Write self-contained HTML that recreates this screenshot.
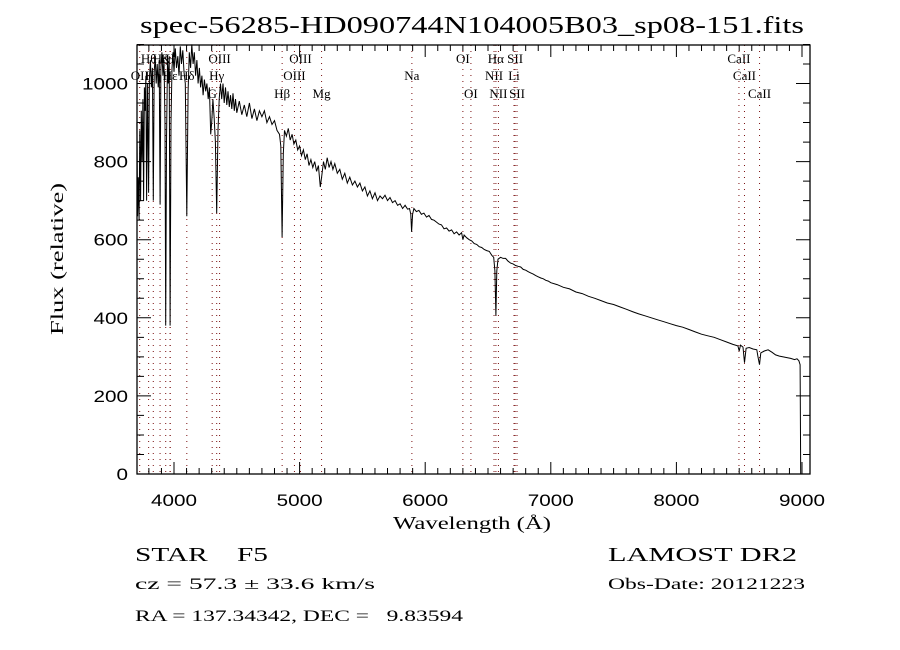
<!DOCTYPE html>
<html><head><meta charset="utf-8"><style>
html,body{margin:0;padding:0;background:#fff;}
svg{display:block;font-family:"Liberation Serif",serif;}
svg text{white-space:pre;}
</style></head><body>
<svg id="chart" width="900" height="650" viewBox="0 0 900 650" xmlns="http://www.w3.org/2000/svg" xml:space="preserve">
<rect width="900" height="650" fill="#fff"/>
<text x="472" y="33" font-size="24" textLength="664" lengthAdjust="spacingAndGlyphs" text-anchor="middle">spec-56285-HD090744N104005B03_sp08-151.fits</text>
<g id="lines"></g>
<g id="axes"></g>
<g id="series"></g>
<text x="472" y="529" font-size="18" textLength="158" lengthAdjust="spacingAndGlyphs" text-anchor="middle">Wavelength (Å)</text>
<text transform="translate(63,259) rotate(-90)" font-size="18" textLength="152" lengthAdjust="spacingAndGlyphs" text-anchor="middle">Flux (relative)</text>
<text x="135" y="561" font-size="20" textLength="133" lengthAdjust="spacingAndGlyphs">STAR    F5</text>
<text x="608" y="561" font-size="20" textLength="189" lengthAdjust="spacingAndGlyphs">LAMOST DR2</text>
<text x="135" y="589" font-size="16" textLength="240" lengthAdjust="spacingAndGlyphs">cz = 57.3 ± 33.6 km/s</text>
<text x="608" y="589" font-size="16" textLength="197" lengthAdjust="spacingAndGlyphs">Obs-Date: 20121223</text>
<text x="135" y="621" font-size="16" textLength="328" lengthAdjust="spacingAndGlyphs">RA = 137.34342, DEC =   9.83594</text>
</svg>
<script>
const wavelengths = [3705,3710,3716,3722,3728,3734,3740,3746,3752,3758,3764,3770,3776,3782,3790,3798,3804,3812,3820,3828,3835,3842,3850,3858,3866,3874,3882,3889,3896,3904,3912,3920,3928,3934,3940,3948,3955,3962,3969,3976,3984,3992,4000,4010,4020,4030,4040,4050,4060,4070,4080,4090,4102,4112,4122,4132,4142,4152,4162,4172,4182,4192,4202,4212,4222,4232,4242,4252,4262,4272,4282,4292,4300,4310,4320,4330,4340,4350,4360,4370,4380,4390,4400,4410,4420,4430,4440,4450,4460,4470,4480,4490,4500,4520,4540,4560,4580,4600,4620,4640,4660,4680,4700,4720,4740,4760,4780,4800,4820,4840,4850,4861,4870,4880,4895,4910,4925,4940,4955,4970,4985,5000,5015,5030,5045,5060,5075,5090,5105,5120,5135,5150,5165,5175,5190,5205,5220,5235,5250,5265,5280,5300,5320,5340,5360,5380,5400,5420,5440,5460,5480,5500,5520,5540,5560,5580,5600,5620,5640,5660,5680,5700,5720,5740,5760,5780,5800,5820,5840,5860,5875,5885,5892,5900,5910,5930,5950,5970,5990,6010,6030,6050,6070,6090,6110,6130,6150,6170,6190,6210,6230,6250,6270,6290,6300,6310,6330,6350,6370,6390,6410,6430,6450,6470,6490,6510,6530,6545,6555,6563,6570,6580,6600,6620,6640,6660,6680,6700,6720,6740,6760,6780,6800,6820,6840,6860,6880,6900,6920,6940,6960,6980,7000,7050,7100,7150,7200,7250,7300,7350,7400,7450,7500,7550,7600,7650,7700,7750,7800,7850,7900,7950,8000,8050,8100,8150,8200,8250,8300,8350,8400,8450,8490,8500,8510,8530,8542,8555,8580,8610,8640,8650,8662,8672,8700,8730,8760,8790,8820,8850,8880,8910,8940,8960,8975,8985,8990];
const fluxes = [900,660,760,650,880,700,930,800,960,700,990,930,1020,700,1000,720,1010,1060,990,1040,700,1030,1070,1000,1050,990,1060,690,1040,1080,1020,1060,900,380,850,1060,1000,1070,380,900,1040,1080,1030,1090,1040,1070,1020,1095,1050,1085,1030,1000,660,980,1080,1040,1100,1050,1080,1020,1060,1000,1040,990,1020,970,1010,980,1000,960,990,870,900,960,910,850,668,880,960,1000,960,1000,950,990,945,980,940,970,935,975,930,960,925,955,920,945,915,950,910,935,905,930,915,930,900,915,895,905,880,870,840,607,820,880,865,885,855,870,845,855,830,840,815,830,805,820,790,805,785,800,775,790,735,760,800,780,810,785,800,780,795,770,780,755,770,745,760,740,750,735,745,725,735,712,725,705,720,700,712,705,714,700,708,695,700,688,692,680,688,678,680,665,620,665,680,672,675,665,668,658,662,652,650,645,640,638,628,630,622,625,615,620,612,618,600,612,605,600,597,590,588,582,580,575,572,570,560,555,520,405,520,550,555,552,552,545,540,538,534,532,530,524,522,518,515,512,508,505,502,500,496,494,490,485,478,474,466,462,455,450,444,438,434,428,422,416,410,405,400,395,390,385,380,376,370,364,358,354,350,344,338,332,328,315,330,325,285,322,324,320,318,300,280,310,315,318,312,305,302,300,298,296,293,295,290,280,0];
const lineNames = ["OII","Hθ","Hη","Hζ","K","H","Hε","Hδ","G","Hγ","OIII","Hβ","OIII","OIII","Mg","Na","OI","OI","NII","Hα","NII","Li","SII","SII","CaII","CaII","CaII"];
const lineWaves = [3727,3798,3835,3889,3934,3969,3970,4102,4304,4340,4363,4861,4959,5007,5175,5894,6300,6364,6548,6563,6583,6707,6716,6731,8498,8542,8662];
const lineRows = [2,1,2,1,1,1,2,2,3,2,1,3,2,1,3,2,1,3,2,1,3,2,1,3,1,2,3];
const xTicks = [4000,5000,6000,7000,8000,9000];
const yTicks = [0,200,400,600,800,1000];

const NS = "http://www.w3.org/2000/svg";
const L = 137, R = 810, T = 45, B = 474;
function xs(w){ return 174 + (w - 4000) * 0.1256; }
function ys(v){ return 474 - 0.3905 * v; }
function mk(tag, attrs, parent){ const e = document.createElementNS(NS, tag); for (const k in attrs) e.setAttribute(k, attrs[k]); parent.appendChild(e); return e; }

const gl = document.getElementById('lines');
const ga = document.getElementById('axes');
const gs = document.getElementById('series');

lineWaves.forEach((w, i) => {
  const x = xs(w);
  const ln = mk('line', {x1:x, x2:x, y1:T, y2:B, stroke:'#7a1010', 'stroke-width':1, 'stroke-dasharray':'1,5'}, gl);
  
  
  const rowY = [0, 63, 80, 98][lineRows[i]];
  const t = mk('text', {x:x, y:rowY, 'font-size':13, 'text-anchor':'middle'}, gl);
  t.textContent = lineNames[i];
  
  
});

const frame = mk('rect', {x:L, y:T, width:R-L, height:B-T, fill:'none', stroke:'#000', 'stroke-width':1.3}, ga);



for (let w = 3800; w <= 9000; w += 100) {
  const x = xs(w); const major = w % 1000 === 0; const len = major ? 12 : 6;
  const tk = mk('path', {d:`M${x},${B}v${-len}M${x},${T}v${len}`, stroke:'#000', 'stroke-width':1}, ga);
  
  
}
for (let v = 0; v <= 1100; v += 50) {
  const y = ys(v); const major = v % 200 === 0; const len = major ? 14 : 7;
  const tk = mk('path', {d:`M${L},${y}h${len}M${R},${y}h${-len}`, stroke:'#000', 'stroke-width':1}, ga);
  
  
}
xTicks.forEach(w => {
  const t = mk('text', {x:xs(w), y:506, 'font-size':17, 'text-anchor':'middle', 'font-family':'Liberation Sans, sans-serif', textLength:String(w).length*11.5, lengthAdjust:'spacingAndGlyphs'}, ga);
  t.textContent = w;
  
  
});
yTicks.forEach(v => {
  const t = mk('text', {x:128, y:ys(v)+6, 'font-size':17, 'text-anchor':'end', 'font-family':'Liberation Sans, sans-serif', textLength:String(v).length*11.5, lengthAdjust:'spacingAndGlyphs'}, ga);
  t.textContent = v;
  
  
});

let d = '';
wavelengths.forEach((w, i) => { d += (i ? 'L' : 'M') + xs(w).toFixed(1) + ',' + ys(fluxes[i]).toFixed(1); });
const path = mk('path', {d:d, fill:'none', stroke:'#000', 'stroke-width':1, 'stroke-linejoin':'miter'}, gs);


</script>
</body></html>
